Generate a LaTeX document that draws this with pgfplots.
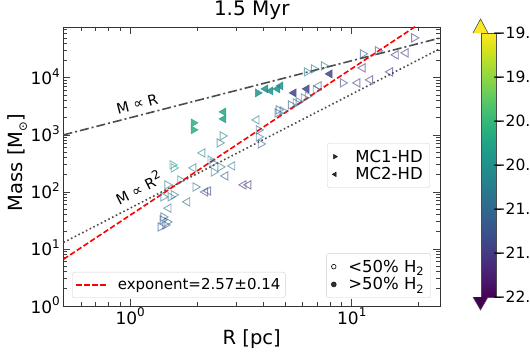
\documentclass[border=0pt]{standalone}
\usepackage{fontspec}
\setmainfont{DejaVu Sans}
\usepackage{pgfplots}
\usepackage{pgfplotstable}
\pgfplotsset{compat=1.18}

\newcommand\fs[1]{\fontsize{#1}{#1}\selectfont}
\newcommand\sups[1]{\raisebox{0.42em}{\fontsize{12}{12}\selectfont #1}}
\newcommand\subs[1]{\raisebox{-0.22em}{\fontsize{11.5}{12}\selectfont #1}}

% MC1-HD, <50% H2 (open, right-pointing)
\pgfplotstableread{
R M c
6.26 12740 -20.8
6.73 14390 -20.8
7.47 16250 -20.8
11.2 26370 -21.2
13.1 29770 -21.2
9.10 8170 -21.3
19.1 50320 -21.5
6.32 4833 -21.0
6.06 4459 -21.0
6.87 6155 -21.0
5.30 3360 -21.0
5.58 3641 -21.0
5.75 3793 -21.0
4.62 2432 -21.0
4.67 2746 -21.0
4.87 2636 -21.0
3.80 1224 -21.0
3.80 922 -21.0
3.88 695 -21.2
2.61 960 -20.7
2.53 724 -20.7
2.30 364 -20.75
2.35 323 -20.75
2.55 275 -20.8
1.55 298 -20.4
1.57 264 -20.4
2.38 224 -20.9
1.47 133 -20.7
1.68 162 -20.7
1.97 122 -21.0
1.41 82 -20.8
1.52 82 -20.8
1.57 89 -20.8
1.41 36.4 -21.1
1.40 32.3 -21.1
1.47 29.8 -21.1
1.37 24.3 -21.1
1.44 26.4 -21.1
}\mconeopen

% MC2-HD, <50% H2 (open, left-pointing)
\pgfplotstableread{
R M c
11.2 14970 -21.5
10.6 8170 -21.5
12.1 9230 -21.5
14.9 12740 -21.6
15.8 25340 -21.6
17.5 27460 -21.6
7.09 7244 -21.1
3.72 1833 -20.75
2.12 483 -20.6
2.89 286 -20.8
1.93 264 -20.7
2.69 191 -21.1
2.18 100 -21.3
2.25 104 -21.3
3.25 133 -21.6
3.42 133 -21.6
1.81 67 -21.0
1.49 52 -20.9
}\mctwoopen

% MC1-HD, >50% H2 (filled, right-pointing)
\pgfplotstableread{
R M c
1.93 1625 -20.1
1.93 1224 -20.1
3.76 5455 -20.45
}\mconefull

% MC2-HD, >50% H2 (filled, left-pointing)
\pgfplotstableread{
R M c
2.64 2533 -20.25
2.64 1909 -20.25
4.08 6412 -20.5
4.30 5917 -20.5
4.62 6412 -20.5
4.77 7244 -20.5
5.47 5455 -21.35
6.26 6412 -21.35
7.95 11750 -21.35
}\mctwofull

\pgfplotsset{
  mylegend/.style={draw=black!18, rounded corners=2.5pt, fill=white,
    fill opacity=0.8, draw opacity=1, text opacity=1,
    nodes={inner sep=2pt}, row sep=0pt},
  overlay axis/.style={at={(0pt,0pt)}, anchor=south west, scale only axis,
    width=376.5pt, height=279pt, hide axis, xmin=0, xmax=1, ymin=0, ymax=1,
    legend cell align=left},
}

\begin{document}
\begin{tikzpicture}
\useasboundingbox (-63.5pt,-51pt) rectangle (466.5pt,306pt);
\begin{axis}[
  at={(0pt,0pt)}, anchor=south west,
  scale only axis, width=376.5pt, height=279pt,
  xmode=log, ymode=log,
  xmin=0.5, xmax=25, ymin=1, ymax=7.8e4,
  xtick={1,10},
  xticklabels={10\sups{0},10\sups{1}},
  ytick={1,10,100,1000,10000},
  yticklabels={10\sups{0},10\sups{1},10\sups{2},10\sups{3},10\sups{4}},
  minor xtick={0.5,0.6,0.7,0.8,0.9,2,3,4,5,6,7,8,9,20},
  minor ytick={2,3,4,5,6,7,8,9,20,30,40,50,60,70,80,90,200,300,400,500,600,700,800,900,2000,3000,4000,5000,6000,7000,8000,9000,20000,30000,40000,50000,60000,70000},
  tick align=inside,
  major tick length=7pt, minor tick length=4pt,
  tick style={black!75, line width=0.8pt},
  axis line style={black!80, line width=0.8pt},
  xticklabel style={font=\fs{17}, anchor=base, inner sep=0pt, yshift=-18pt},
  yticklabel style={font=\fs{17}, anchor=base east, inner sep=0pt, xshift=-3.5pt, yshift=-7pt},
  title={1.5 Myr},
  title style={font=\fs{20}, at={(0.5,1)}, anchor=base, yshift=5pt},
  xlabel={R [pc]},
  ylabel={Mass [M\subs{⊙}]},
  every axis x label/.style={at={(axis description cs:0.5,-0.1362)}, anchor=base, font=\fs{19.5}},
  every axis y label/.style={at={(axis description cs:-0.1084,0.514)}, anchor=base, rotate=90, font=\fs{19.5}},
  colormap/viridis,
  point meta min=-22, point meta max=-19,
  colorbar,
  colorbar style={
    scale only axis, width=15pt, height=264pt,
    at={(parent axis.east)}, anchor=west, xshift=33pt, yshift=1.5pt,
    ytick={-22,-21.5,-21,-20.5,-20,-19.5,-19},
    yticklabels={−22.0,−21.5,−21.0,−20.5,−20.0,−19.5,−19.0},
    ytick pos=right, yticklabel pos=right,
    tick align=outside, major tick length=4pt,
    tick style={black!80, line width=0.7pt},
    axis line style={black!70, line width=0.6pt},
    yticklabel style={font=\fs{15.5}, anchor=base west, inner sep=0pt, xshift=-8pt, yshift=-5.6pt},
  },
  legend cell align=left,
  legend style={mylegend, at={(0.0226,0.0287)}, anchor=south west,
    inner xsep=3pt, inner ysep=4.5pt, column sep=8pt, font=\fs{15}},
  legend image code/.code={\draw[#1] (0pt,0pt) -- (31pt,0pt);},
]
% reference lines
\addplot[forget plot, black!70, line width=1.6pt, dash pattern=on 9pt off 3pt on 2pt off 3pt]
  coordinates {(0.5,1000) (25,50000)};
\addplot[forget plot, black!70, line width=1.6pt, dash pattern=on 1.6pt off 2.6pt]
  coordinates {(0.5,13) (25,32500)};
% data
\addplot[forget plot, scatter, only marks, mark=triangle, mark size=4.8pt, line width=0.9pt,
  point meta=explicit, scatter/use mapped color={draw=mapped color, draw opacity=0.6},
  mark options={rotate=-90}]
  table[x=R, y=M, meta=c] {\mconeopen};
\addplot[forget plot, scatter, only marks, mark=triangle, mark size=4.8pt, line width=0.9pt,
  point meta=explicit, scatter/use mapped color={draw=mapped color, draw opacity=0.6},
  mark options={rotate=90}]
  table[x=R, y=M, meta=c] {\mctwoopen};
\addplot[forget plot, scatter, only marks, mark=triangle*, mark size=4.6pt, line width=0.5pt,
  point meta=explicit, scatter/use mapped color={draw=mapped color, fill=mapped color, opacity=0.85},
  mark options={rotate=-90}]
  table[x=R, y=M, meta=c] {\mconefull};
\addplot[forget plot, scatter, only marks, mark=triangle*, mark size=4.6pt, line width=0.5pt,
  point meta=explicit, scatter/use mapped color={draw=mapped color, fill=mapped color, opacity=0.85},
  mark options={rotate=90}]
  table[x=R, y=M, meta=c] {\mctwofull};
% fit
\addplot[red, line width=1.6pt, dash pattern=on 5.5pt off 2.5pt]
  coordinates {(0.5,6.6) (25,153350)};
\addlegendentry{exponent=2.57±0.14}
\node[rotate=14.4, font=\fs{14.5}] at (axis cs:1.076,3500) {M ∝ R};
\node[rotate=27, font=\fs{14.5}] at (axis cs:1.087,122) {M ∝ R\sups{2}};
\end{axis}

% legend: clouds
\begin{axis}[overlay axis,
  legend style={mylegend, at={(0.9734,0.584)}, anchor=north east,
    inner xsep=5pt, inner ysep=4.5pt, column sep=16pt, font=\fs{16.5}},
  legend image code/.code={\draw[mark repeat=2,mark phase=2,#1] plot coordinates {(0pt,0pt) (14pt,0pt) (28pt,0pt)};},
]
\addplot[draw=none, forget plot] coordinates {(0.5,0.5)};
\addlegendimage{only marks, mark=triangle*, black, mark size=2.6pt, mark options={rotate=-90}}
\addlegendentry{MC1-HD}
\addlegendimage{only marks, mark=triangle*, black, mark size=2.6pt, mark options={rotate=90}}
\addlegendentry{MC2-HD}
\end{axis}

% legend: H2 fraction
\begin{axis}[overlay axis,
  legend style={mylegend, at={(0.976,0.0287)}, anchor=south east,
    inner xsep=5pt, inner ysep=4.5pt, column sep=10pt, font=\fs{16.5}},
  legend image code/.code={\draw[mark repeat=2,mark phase=2,#1] plot coordinates {(0pt,0pt) (17pt,0pt) (34pt,0pt)};},
]
\addplot[draw=none, forget plot] coordinates {(0.5,0.5)};
\addlegendimage{only marks, mark=o, black, mark size=2.3pt, line width=0.6pt}
\addlegendentry{<50\% H\subs{2}}
\addlegendimage{only marks, mark=*, black, mark size=2.5pt}
\addlegendentry{>50\% H\subs{2}}
\end{axis}

% colorbar extension triangles
\filldraw[fill={rgb,255:red,253;green,231;blue,37}, draw=black!70, line width=0.6pt]
  (409.5pt,273pt) -- (417pt,287pt) -- (424.5pt,273pt);
\filldraw[fill={rgb,255:red,68;green,1;blue,84}, draw=black!70, line width=0.6pt]
  (409.5pt,9pt) -- (417pt,-4pt) -- (424.5pt,9pt);
\end{tikzpicture}
\end{document}
